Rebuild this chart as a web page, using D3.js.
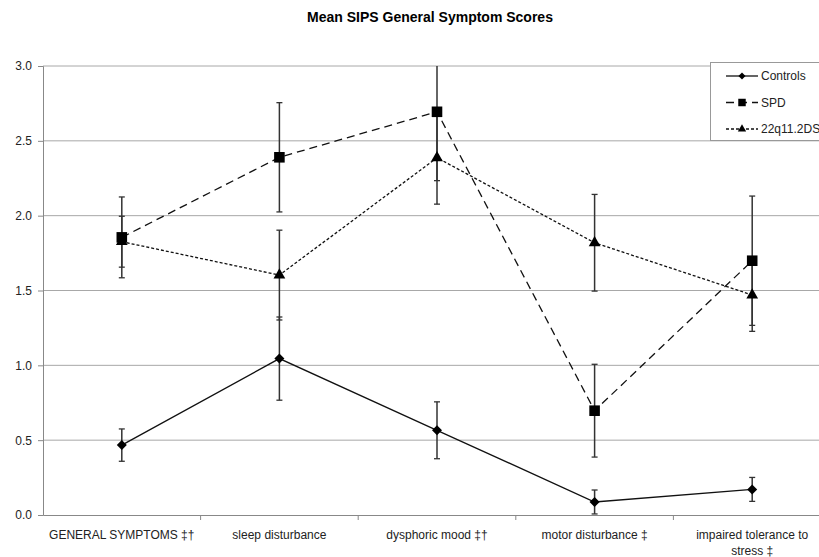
<!DOCTYPE html>
<html>
<head>
<meta charset="utf-8">
<script src="https://cdn.jsdelivr.net/npm/d3@7"></script>
<style>
  body { margin: 0; background: #fff; }
  text { font-family: "Liberation Sans", Arial, sans-serif; }
</style>
</head>
<body>
<div id="chart"></div>
<script>
var categories = ["GENERAL SYMPTOMS ‡†", "sleep disturbance", "dysphoric mood ‡†", "motor disturbance ‡", "impaired tolerance to stress ‡"];
var categoryLines = [["GENERAL SYMPTOMS ‡†"], ["sleep disturbance"], ["dysphoric mood ‡†"], ["motor disturbance ‡"], ["impaired tolerance to", "stress ‡"]];
var yTicks = [0, 0.5, 1, 1.5, 2, 2.5, 3];

var controls = [0.467, 1.045, 0.566, 0.087, 0.171];
var controlsErr = [0.108, 0.278, 0.19, 0.08, 0.08];
var spd = [1.855, 2.39, 2.694, 0.697, 1.699];
var spdErr = [0.27, 0.365, 0.46, 0.31, 0.432];
var q22 = [1.826, 1.603, 2.387, 1.819, 1.47];
var q22Err = [0.17, 0.30, 0.31, 0.323, 0.243];

var series = [
    { name: "Controls", values: controls, err: controlsErr, dash: null, symbol: d3.symbolDiamond2, size: 64 },
    { name: "SPD", values: spd, err: spdErr, dash: "8,5", symbol: d3.symbolSquare, size: 112 },
    { name: "22q11.2DS", values: q22, err: q22Err, dash: "3,2", symbol: d3.symbolTriangle, size: 60 }
];

var W = 819, H = 557,
    margin = { top: 66, left: 43, bottom: 42 },
    plotRight = 831;

var svg = d3.select("#chart").append("svg").attr("width", W).attr("height", H);

var x = d3.scaleBand()
    .domain(categories)
    .range([margin.left, plotRight]);
var y = d3.scaleLinear()
    .domain([0, 3])
    .range([H - margin.bottom, margin.top]);

svg.append("defs").append("clipPath")
    .attr("id", "clip")
    .append("rect")
    .attr("x", margin.left)
    .attr("y", margin.top)
    .attr("width", plotRight - margin.left)
    .attr("height", y(0) - margin.top + 1);

// title
svg.append("text")
    .attr("x", 430).attr("y", 22)
    .attr("text-anchor", "middle")
    .style("font-size", "14px").style("font-weight", "bold")
    .text("Mean SIPS General Symptom Scores");

// gridlines
svg.append("g").selectAll("line")
    .data(yTicks.filter(d => d > 0))
    .join("line")
    .attr("x1", margin.left).attr("x2", plotRight)
    .attr("y1", d => y(d)).attr("y2", d => y(d))
    .attr("stroke", "#a8a8a8").attr("stroke-width", 1);

// y axis
var yAxis = svg.append("g")
    .attr("transform", "translate(" + margin.left + ",0)")
    .call(d3.axisLeft(y).tickValues(yTicks).tickFormat(d3.format(".1f")).tickSize(5).tickPadding(6));
yAxis.select(".domain").attr("stroke", "#888");
yAxis.selectAll(".tick line").attr("stroke", "#888");
yAxis.selectAll(".tick text").style("font-size", "12px").attr("fill", "#222");

// x axis
var xAxis = svg.append("g")
    .attr("transform", "translate(0," + y(0) + ")")
    .call(d3.axisBottom(x).tickSize(0).tickFormat(""));
xAxis.select(".domain").attr("stroke", "#888");
svg.append("g").selectAll("line")
    .data(categories.slice(1))
    .join("line")
    .attr("x1", d => x(d)).attr("x2", d => x(d))
    .attr("y1", y(0)).attr("y2", y(0) + 5)
    .attr("stroke", "#888");

svg.append("g").selectAll("text")
    .data(categories)
    .join("text")
    .attr("x", d => x(d) + x.bandwidth() / 2)
    .attr("y", y(0) + 24)
    .attr("text-anchor", "middle")
    .style("font-size", "12px")
    .attr("fill", "#222")
    .each(function (d, i) {
        var t = d3.select(this);
        categoryLines[i].forEach(function (line, j) {
            t.append("tspan")
                .attr("x", x(d) + x.bandwidth() / 2)
                .attr("dy", j === 0 ? 0 : 16)
                .text(line);
        });
    });

var cx = d => x(d) + x.bandwidth() / 2;
var plot = svg.append("g").attr("clip-path", "url(#clip)");

// error bars
series.forEach(function (s) {
    var g = plot.append("g");
    categories.forEach(function (c, i) {
        var v = s.values[i], e = s.err[i];
        g.append("line")
            .attr("x1", cx(c)).attr("x2", cx(c))
            .attr("y1", y(v + e)).attr("y2", y(v - e))
            .attr("stroke", "#333").attr("stroke-width", 1.5);
        [v + e, v - e].forEach(function (w) {
            g.append("line")
                .attr("x1", cx(c) - 3).attr("x2", cx(c) + 3)
                .attr("y1", y(w)).attr("y2", y(w))
                .attr("stroke", "#333").attr("stroke-width", 1.3);
        });
    });
});

// lines + markers
var line = d3.line()
    .x((d, i) => cx(categories[i]))
    .y(d => y(d));

series.forEach(function (s) {
    plot.append("path")
        .datum(s.values)
        .attr("d", line)
        .attr("fill", "none")
        .attr("stroke", "#111")
        .attr("stroke-width", 1.3)
        .attr("stroke-dasharray", s.dash);
    plot.append("g").selectAll("path")
        .data(s.values)
        .join("path")
        .attr("transform", (d, i) => "translate(" + cx(categories[i]) + "," + y(d) + ")")
        .attr("d", d3.symbol().type(s.symbol).size(s.size))
        .attr("fill", "#000");
});

// legend
var lg = svg.append("g");
lg.append("rect")
    .attr("x", 710.5).attr("y", 62.5)
    .attr("width", 120).attr("height", 78)
    .attr("fill", "#fff").attr("stroke", "#999");
series.forEach(function (s, i) {
    var ly = 76 + i * 26.5;
    lg.append("line")
        .attr("x1", 726).attr("x2", 758)
        .attr("y1", ly).attr("y2", ly)
        .attr("stroke", "#111").attr("stroke-width", 1.3)
        .attr("stroke-dasharray", s.dash);
    lg.append("path")
        .attr("transform", "translate(742," + ly + ")")
        .attr("d", d3.symbol().type(s.symbol).size(s.size * 0.5))
        .attr("fill", "#000");
    lg.append("text")
        .attr("x", 761).attr("y", ly + 4)
        .style("font-size", "12px")
        .attr("fill", "#222")
        .text(s.name);
});
</script>
</body>
</html>
